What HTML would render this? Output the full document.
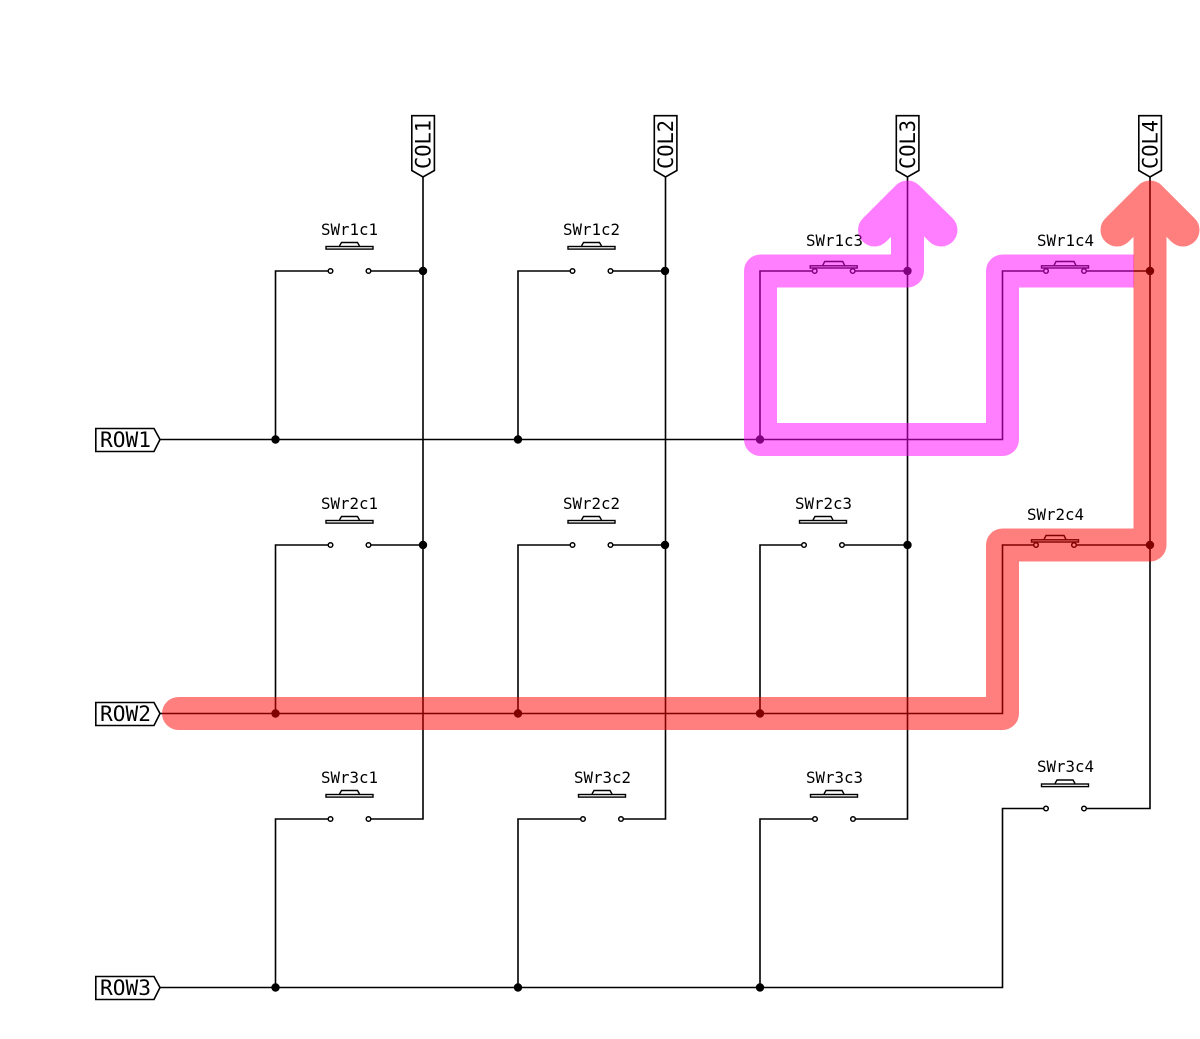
<!DOCTYPE html>
<html>
<head>
<meta charset="utf-8">
<style>
html,body{margin:0;padding:0;background:#fff;width:1200px;height:1039px;overflow:hidden}
svg{display:block}
.w{fill:none;stroke:#000;stroke-width:1.6;stroke-linejoin:miter}
.s{font-family:"DejaVu Sans Mono","Liberation Mono",monospace;font-size:16px;fill:#000}
.l{font-family:"DejaVu Sans Mono","Liberation Mono",monospace;font-size:21px;fill:#000}
.p{fill:#fff;stroke:#000;stroke-width:1.6}
</style>
</head>
<body>
<svg width="1200" height="1039" viewBox="0 0 1200 1039" xmlns="http://www.w3.org/2000/svg">
<defs>
<g id="op">
  <circle cx="-19" cy="0" r="2.3" fill="#fff" stroke="#000" stroke-width="1.5"/>
  <circle cx="19" cy="0" r="2.3" fill="#fff" stroke="#000" stroke-width="1.5"/>
  <rect x="-23.5" y="-24.5" width="47" height="2.6" fill="#fff" stroke="#000" stroke-width="1.4"/>
  <path d="M-10,-25 L-8,-28.5 L8,-28.5 L10,-25" fill="none" stroke="#000" stroke-width="1.4"/>
</g>
<g id="cl">
  <circle cx="-19" cy="0" r="2.3" fill="none" stroke="#000" stroke-width="1.5"/>
  <circle cx="19" cy="0" r="2.3" fill="none" stroke="#000" stroke-width="1.5"/>
  <rect x="-23.5" y="-5.2" width="47" height="2.2" fill="none" stroke="#000" stroke-width="1.4"/>
  <path d="M-19,-3 V-2 M19,-3 V-2" stroke="#000" stroke-width="1.4"/>
  <path d="M-11,-5.5 L-9,-9.5 L9,-9.5 L11,-5.5" fill="none" stroke="#000" stroke-width="1.4"/>
</g>
</defs>

<!-- wires -->
<g class="w">
  <path d="M423,177 V819 H371"/>
  <path d="M665.5,177 V819 H623"/>
  <path d="M907.5,177 V819 H855"/>
  <path d="M1150,177 V808.5 H1086"/>
  <path d="M160,439.5 H1002.5 V271 H1044"/>
  <path d="M160,713.5 H1002.5 V545 H1034"/>
  <path d="M160,987.5 H1002.5 V808.5 H1044"/>
  <path d="M275.5,439.5 V271 H328"/>
  <path d="M518,439.5 V271 H570"/>
  <path d="M760,439.5 V271 H812"/>
  <path d="M371,271 H423"/>
  <path d="M613,271 H665"/>
  <path d="M855,271 H907"/>
  <path d="M1086,271 H1150"/>
  <path d="M275.5,713.5 V545 H328"/>
  <path d="M518,713.5 V545 H570"/>
  <path d="M760,713.5 V545 H802"/>
  <path d="M371,545 H423"/>
  <path d="M613,545 H665"/>
  <path d="M845,545 H907"/>
  <path d="M1076,545 H1150"/>
  <path d="M275.5,987.5 V819 H328"/>
  <path d="M518,987.5 V819 H581"/>
  <path d="M760,987.5 V819 H813"/>
</g>

<!-- junctions -->
<g fill="#000">
  <circle cx="423" cy="271" r="4.2"/><circle cx="665" cy="271" r="4.2"/><circle cx="907.5" cy="271" r="4.2"/><circle cx="1150" cy="271" r="4.2"/>
  <circle cx="423" cy="545" r="4.2"/><circle cx="665" cy="545" r="4.2"/><circle cx="907.5" cy="545" r="4.2"/><circle cx="1150" cy="545" r="4.2"/>
  <circle cx="275.5" cy="439.5" r="4.2"/><circle cx="518" cy="439.5" r="4.2"/><circle cx="760" cy="439.5" r="4.2"/>
  <circle cx="275.5" cy="713.5" r="4.2"/><circle cx="518" cy="713.5" r="4.2"/><circle cx="760" cy="713.5" r="4.2"/>
  <circle cx="275.5" cy="987.5" r="4.2"/><circle cx="518" cy="987.5" r="4.2"/><circle cx="760" cy="987.5" r="4.2"/>
</g>

<!-- switches -->
<use href="#op" x="349.5" y="271"/>
<use href="#op" x="591.5" y="271"/>
<use href="#cl" x="833.7" y="271"/>
<use href="#cl" x="1065" y="271"/>
<use href="#op" x="349.5" y="545"/>
<use href="#op" x="591.5" y="545"/>
<use href="#op" x="823" y="545"/>
<use href="#cl" x="1055" y="545"/>
<use href="#op" x="349.5" y="819"/>
<use href="#op" x="602" y="819"/>
<use href="#op" x="834" y="819"/>
<use href="#op" x="1065" y="808.5"/>

<!-- switch labels -->
<text class="s" x="321" y="235" textLength="57" lengthAdjust="spacingAndGlyphs">SWr1c1</text>
<text class="s" x="563" y="235" textLength="57" lengthAdjust="spacingAndGlyphs">SWr1c2</text>
<text class="s" x="806" y="246" textLength="57" lengthAdjust="spacingAndGlyphs">SWr1c3</text>
<text class="s" x="1037" y="246" textLength="57" lengthAdjust="spacingAndGlyphs">SWr1c4</text>
<text class="s" x="321" y="509" textLength="57" lengthAdjust="spacingAndGlyphs">SWr2c1</text>
<text class="s" x="563" y="509" textLength="57" lengthAdjust="spacingAndGlyphs">SWr2c2</text>
<text class="s" x="795" y="509" textLength="57" lengthAdjust="spacingAndGlyphs">SWr2c3</text>
<text class="s" x="1027" y="520" textLength="57" lengthAdjust="spacingAndGlyphs">SWr2c4</text>
<text class="s" x="321" y="783" textLength="57" lengthAdjust="spacingAndGlyphs">SWr3c1</text>
<text class="s" x="574" y="783" textLength="57" lengthAdjust="spacingAndGlyphs">SWr3c2</text>
<text class="s" x="806" y="783" textLength="57" lengthAdjust="spacingAndGlyphs">SWr3c3</text>
<text class="s" x="1037" y="772" textLength="57" lengthAdjust="spacingAndGlyphs">SWr3c4</text>

<!-- row labels -->
<path class="p" d="M95.8,428.5 H154 L160,439.5 L154,451.5 H95.8 Z"/>
<path class="p" d="M95.8,702.5 H154 L160,713.5 L154,725.5 H95.8 Z"/>
<path class="p" d="M95.8,976.5 H154 L160,987.5 L154,999.5 H95.8 Z"/>
<text class="l" x="100" y="447" textLength="51" lengthAdjust="spacingAndGlyphs">ROW1</text>
<text class="l" x="100" y="721" textLength="51" lengthAdjust="spacingAndGlyphs">ROW2</text>
<text class="l" x="100" y="995" textLength="51" lengthAdjust="spacingAndGlyphs">ROW3</text>

<!-- column labels -->
<path class="p" d="M411.8,115.7 H434.4 V170.5 L423,177 L411.8,170.5 Z"/>
<path class="p" d="M654.3,115.7 H676.9 V170.5 L665.5,177 L654.3,170.5 Z"/>
<path class="p" d="M896.3,115.7 H918.9 V170.5 L907.5,177 L896.3,170.5 Z"/>
<path class="p" d="M1138.8,115.7 H1161.4 V170.5 L1150,177 L1138.8,170.5 Z"/>
<text class="l" transform="translate(430.5,169) rotate(-90)" textLength="49" lengthAdjust="spacingAndGlyphs">COL1</text>
<text class="l" transform="translate(673,169) rotate(-90)" textLength="49" lengthAdjust="spacingAndGlyphs">COL2</text>
<text class="l" transform="translate(915,169) rotate(-90)" textLength="49" lengthAdjust="spacingAndGlyphs">COL3</text>
<text class="l" transform="translate(1157.5,169) rotate(-90)" textLength="49" lengthAdjust="spacingAndGlyphs">COL4</text>

<!-- highlight: magenta -->
<g opacity="0.5" fill="none" stroke="#f0f" stroke-width="33" stroke-linejoin="round">
  <path d="M874.5,230 L907.5,197 L941,230" stroke-linecap="round"/>
  <path d="M907.5,197 V271 H760.5 V439.5 H1002.5 V271 H1134" stroke-linecap="butt"/>
</g>

<!-- highlight: red -->
<path d="M178.5,713.5 H1002.5 V545 H1150 V197 M1117,230 L1150,197 L1183,230" fill="none" stroke="#f00" stroke-opacity="0.5" stroke-width="33" stroke-linejoin="round" stroke-linecap="round"/>
</svg>
</body>
</html>
